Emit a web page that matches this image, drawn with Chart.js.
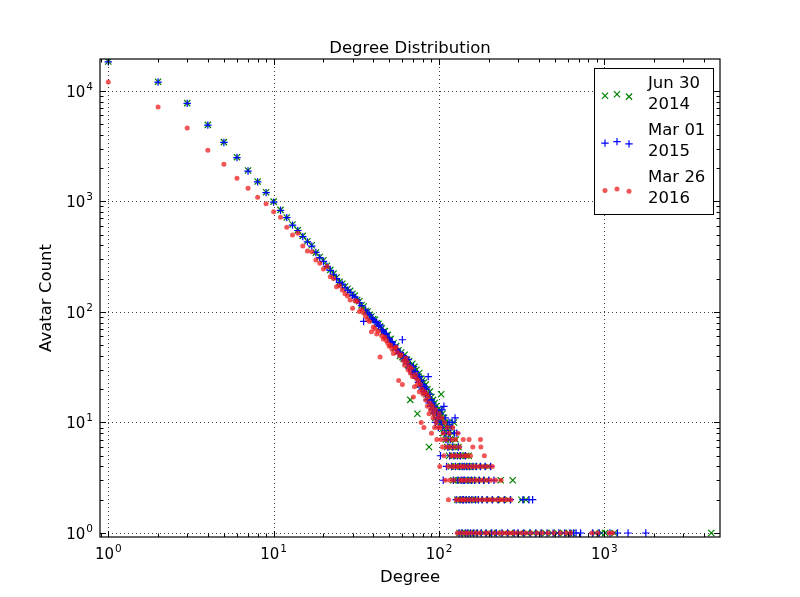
<!DOCTYPE html>
<html>
<head>
<meta charset="utf-8">
<title>Degree Distribution</title>
<script src="https://cdn.jsdelivr.net/npm/chart.js@4.4.1/dist/chart.umd.min.js"></script>
<style>
    html, body { margin: 0; padding: 0; background: #fff; }
    #wrap { width: 800px; height: 597px; position: relative; }
</style>
</head>
<body>
<div id="wrap"><canvas id="degreeChart"></canvas></div>
<script>
// Avatar count for degree 1, 2, 3, ... 140 (one value per degree)
const jun2014Head = [
    18400, 12100, 7740, 4920, 3435, 2510, 1900, 1510, 1210, 995,
    838, 715, 617, 549, 487, 436, 401, 344, 314, 293,
    262, 240, 222, 205, 187, 180, 170, 162, 155, 146,
    141, 128, 125, 115, 112, 102, 101, 94, 91, 86,
    85, 79, 78, 74, 71, 66, 67, 61, 62, 56,
    57, 51, 52, 47, 49, 44, 45, 40, 43, 39,
    38, 41, 35, 37, 33, 36, 16, 31, 34, 29,
    32, 27, 30, 12, 26, 28, 22, 25, 24, 21,
    23, 19, 22, 18, 20, 17, 6, 19, 15, 17,
    14, 16, 13, 15, 11, 14, 12, 13, 10, 12,
    11, 13, 18, 10, 12, 8, 11, 9, 10, 7,
    9, 6, 8, 10, 5, 7, 9, 4, 6, 8,
    5, 3, 10, 6, 4, 7, 3, 5, 2, 4,
    6, 3, 1, 5, 2, 4, 3, 1, 5, 2
];
const mar2015Head = [
    18300, 12000, 7700, 4890, 3410, 2490, 1880, 1500, 1200, 985,
    830, 712, 610, 545, 480, 430, 394, 345, 310, 286,
    258, 238, 219, 200, 185, 178, 165, 157, 150, 141,
    136, 128, 121, 114, 82, 104, 98, 94, 88, 85,
    82, 80, 74, 76, 69, 67, 64, 63, 58, 57,
    54, 53, 49, 50, 46, 45, 42, 43, 40, 56,
    40, 36, 38, 34, 37, 31, 33, 30, 28, 32,
    27, 29, 25, 27, 23, 26, 21, 24, 20, 22,
    19, 21, 18, 20, 16, 26, 15, 18, 14, 16,
    13, 15, 12, 14, 10, 13, 11, 12, 9, 11,
    12, 5, 10, 13, 9, 3, 14, 8, 11, 7,
    4, 9, 6, 8, 10, 5, 7, 9, 4, 10,
    6, 3, 5, 8, 11, 4, 2, 8, 5, 3,
    6, 1, 4, 2, 5, 3, 1, 4, 2, 3
];
const mar2016Head = [
    12000, 7120, 4600, 2900, 2170, 1620, 1315, 1090, 950, 804,
    719, 584, 497, 515, 395, 356, 350, 295, 276, 245,
    257, 208, 201, 169, 172, 158, 146, 139, 128, 108,
    126, 124, 101, 105, 98, 91, 85, 82, 66, 73,
    70, 63, 67, 39, 61, 57, 59, 55, 52, 49,
    50, 46, 42, 47, 48, 43, 24, 40, 41, 22,
    36, 33, 38, 35, 30, 32, 28, 31, 26, 17,
    21, 27, 25, 22, 24, 19, 22, 10, 20, 18,
    9, 19, 16, 18, 14, 17, 12, 15, 13, 8,
    14, 11, 12, 9, 13, 10, 7, 11, 9, 12,
    4, 9, 7, 11, 6, 8, 5, 10, 3, 7,
    6, 9, 4, 2, 8, 3, 6, 5, 7, 4,
    9, 5, 3, 6, 4, 7, 2, 5, 1, 8,
    4, 2, 6, 3, 5, 1, 4, 2, 3, 7
];

// Degrees above 140, grouped by their (small) avatar count
const jun2014Tail = [
    [5, [146, 151]],
    [4, [143, 149, 156, 163, 172, 184, 198]],
    [3, [142, 148, 154, 161, 170, 181, 193, 236, 279]],
    [2, [141, 145, 152, 159, 167, 176, 189, 203, 218, 240, 262, 315, 335]],
    [1, [144, 150, 157, 165, 174, 186, 200, 212, 225, 250, 270, 290, 310, 340, 370,
         400, 440, 480, 520, 565, 610, 640, 880, 960, 1010, 1150, 4430]]
];
const mar2015Tail = [
    [5, [144]],
    [4, [142, 147, 153, 160, 168, 178, 190, 205]],
    [3, [143, 150, 157, 164, 175, 186, 200, 215]],
    [2, [141, 146, 152, 158, 166, 173, 182, 195, 210, 228, 248, 270, 322, 350, 368]],
    [1, [145, 149, 155, 162, 170, 180, 192, 208, 222, 240, 260, 285, 300, 325, 355,
         385, 415, 450, 490, 530, 575, 620, 650, 674, 718, 850, 930, 1080, 1200, 1390, 1780]]
];
const mar2016Tail = [
    [7, [152, 178]],
    [6, [160, 179]],
    [5, [143, 147, 155, 188]],
    [4, [142, 150, 158, 166, 175, 185, 196, 210]],
    [3, [145, 153, 162, 171, 182, 194, 206, 220, 237]],
    [2, [141, 148, 156, 164, 173, 183, 193, 202, 212, 225, 235, 245, 258, 272]],
    [1, [144, 149, 157, 167, 176, 190, 200, 215, 230, 242, 255, 268, 280, 295, 315,
         335, 360, 390, 420, 455, 495, 540, 585, 625, 840, 910, 1070, 1120]]
];

const seriesNames = [['Jun 30', '2014'], ['Mar 01', '2015'], ['Mar 26', '2016']];
const xMajorTicks = [1, 10, 100, 1000];
const yMajorTicks = [1, 10, 100, 1000, 10000];
const xRange = [0.891, 5000];
const yRange = [0.92, 19400];

function toPoints(head, tail) {
    const pts = head.map((c, i) => ({ x: i + 1, y: c }));
    tail.forEach(([count, degrees]) => {
        degrees.forEach(d => pts.push({ x: d, y: count }));
    });
    return pts;
}

function minorTicks(majors, lo, hi) {
    const out = [];
    [majors[0] / 10].concat(majors).forEach(m => {
        for (let k = 2; k <= 9; k++) {
            const v = m * k;
            if (v > lo && v < hi) out.push(v);
        }
    });
    return out;
}

// "10" with a raised exponent, like matplotlib's mathtext tick labels
function drawPowerLabel(ctx, value, x, baseY, anchor) {
    const base = '10';
    const exp = String(Math.round(Math.log10(value)));
    ctx.font = '15px "DejaVu Sans"';
    const wb = ctx.measureText(base).width;
    ctx.font = '10.5px "DejaVu Sans"';
    const we = ctx.measureText(exp).width + 1;
    const left = anchor === 'center' ? x - (wb + we) / 2 : x - (wb + we);
    ctx.textAlign = 'left';
    ctx.textBaseline = 'alphabetic';
    ctx.font = '15px "DejaVu Sans"';
    ctx.fillText(base, left, baseY);
    ctx.font = '10.5px "DejaVu Sans"';
    ctx.fillText(exp, left + wb + 1, baseY - 7);
}

function drawMarker(ctx, ds, x, y) {
    const r = ds.pointRadius;
    ctx.save();
    ctx.lineWidth = ds.borderWidth;
    ctx.strokeStyle = ds.borderColor;
    ctx.fillStyle = ds.backgroundColor;
    ctx.beginPath();
    if (ds.pointStyle === 'crossRot') {
        const o = r * Math.SQRT1_2;
        ctx.moveTo(x - o, y - o); ctx.lineTo(x + o, y + o);
        ctx.moveTo(x - o, y + o); ctx.lineTo(x + o, y - o);
        ctx.stroke();
    } else if (ds.pointStyle === 'cross') {
        ctx.moveTo(x - r, y); ctx.lineTo(x + r, y);
        ctx.moveTo(x, y - r); ctx.lineTo(x, y + r);
        ctx.stroke();
    } else {
        ctx.arc(x, y, r, 0, Math.PI * 2);
        ctx.fill();
    }
    ctx.restore();
}

// matplotlib-like frame: dotted grid, inward ticks on all sides, tick labels, title, legend
const mplFrame = {
    id: 'mplFrame',
    beforeDatasetsDraw(chart) {
        const { ctx, chartArea: a, scales } = chart;
        ctx.save();
        ctx.strokeStyle = 'rgba(0,0,0,0.85)';
        ctx.lineWidth = 0.9;
        ctx.setLineDash([1, 3]);
        xMajorTicks.forEach(v => {
            const px = Math.round(scales.x.getPixelForValue(v)) + 0.5;
            ctx.beginPath(); ctx.moveTo(px, a.top); ctx.lineTo(px, a.bottom); ctx.stroke();
        });
        yMajorTicks.forEach(v => {
            const py = Math.round(scales.y.getPixelForValue(v)) + 0.5;
            ctx.beginPath(); ctx.moveTo(a.left, py); ctx.lineTo(a.right, py); ctx.stroke();
        });
        ctx.restore();
    },
    afterDatasetsDraw(chart) {
        const { ctx, chartArea: a, scales } = chart;
        ctx.save();
        ctx.strokeStyle = '#000';
        ctx.lineWidth = 1;

        const tick = (px, len, horiz) => {
            ctx.beginPath();
            if (horiz) {
                ctx.moveTo(px, a.bottom); ctx.lineTo(px, a.bottom - len);
                ctx.moveTo(px, a.top); ctx.lineTo(px, a.top + len);
            } else {
                ctx.moveTo(a.left, px); ctx.lineTo(a.left + len, px);
                ctx.moveTo(a.right, px); ctx.lineTo(a.right - len, px);
            }
            ctx.stroke();
        };
        xMajorTicks.forEach(v => tick(Math.round(scales.x.getPixelForValue(v)) + 0.5, 6, true));
        minorTicks(xMajorTicks, xRange[0], xRange[1])
            .forEach(v => tick(Math.round(scales.x.getPixelForValue(v)) + 0.5, 3.5, true));
        yMajorTicks.forEach(v => tick(Math.round(scales.y.getPixelForValue(v)) + 0.5, 6, false));
        minorTicks(yMajorTicks, yRange[0], yRange[1])
            .forEach(v => tick(Math.round(scales.y.getPixelForValue(v)) + 0.5, 3.5, false));

        ctx.lineWidth = 1.2;
        ctx.strokeRect(a.left, a.top, a.right - a.left, a.bottom - a.top);

        // tick labels
        ctx.fillStyle = '#000';
        xMajorTicks.forEach(v => drawPowerLabel(ctx, v, scales.x.getPixelForValue(v), a.bottom + 21.5, 'center'));
        yMajorTicks.forEach(v => drawPowerLabel(ctx, v, a.left - 7, scales.y.getPixelForValue(v) + 5.7, 'right'));

        // title
        ctx.font = '16.5px "DejaVu Sans"';
        ctx.textAlign = 'center';
        ctx.textBaseline = 'alphabetic';
        ctx.fillText('Degree Distribution', (a.left + a.right) / 2, a.top - 6);

        // legend
        const lx = a.right - 126, ly = a.top + 9, lw = 119, lh = 146;
        ctx.fillStyle = '#fff';
        ctx.fillRect(lx, ly, lw, lh);
        ctx.lineWidth = 1;
        ctx.strokeStyle = '#000';
        ctx.strokeRect(lx + 0.5, ly + 0.5, lw, lh);
        ctx.fillStyle = '#000';
        ctx.textAlign = 'left';
        ctx.textBaseline = 'middle';
        const offsets = [2, 0.5, 2.8];
        chart.data.datasets.forEach((ds, i) => {
            const cy = ly + 25.8 + i * 47.3;
            [11, 23, 35].forEach((dx, k) => drawMarker(ctx, ds, lx + dx, cy + offsets[k]));
            ctx.fillText(seriesNames[i][0], lx + 54, cy - 10.5);
            ctx.fillText(seriesNames[i][1], lx + 54, cy + 10.5);
        });
        ctx.restore();
    }
};

Chart.defaults.font.family = '"DejaVu Sans", sans-serif';
Chart.defaults.color = '#000';

const ctx = document.getElementById('degreeChart').getContext('2d');
window.degreeChart = new Chart(ctx, {
    type: 'scatter',
    data: {
        datasets: [{
            label: seriesNames[0].join(' '),
            data: toPoints(jun2014Head, jun2014Tail),
            pointStyle: 'crossRot',
            pointRadius: 4.4,
            borderWidth: 1.2,
            borderColor: '#008000',
            backgroundColor: '#008000',
            order: 3
        }, {
            label: seriesNames[1].join(' '),
            data: toPoints(mar2015Head, mar2015Tail),
            pointStyle: 'cross',
            pointRadius: 3.7,
            borderWidth: 1.2,
            borderColor: '#0000ff',
            backgroundColor: '#0000ff',
            order: 2
        }, {
            label: seriesNames[2].join(' '),
            data: toPoints(mar2016Head, mar2016Tail),
            pointStyle: 'circle',
            pointRadius: 2.5,
            borderWidth: 0,
            borderColor: 'rgba(238,30,30,0.75)',
            backgroundColor: 'rgba(238,30,30,0.75)',
            order: 1
        }]
    },
    options: {
        responsive: true,
        maintainAspectRatio: false,
        devicePixelRatio: 1,
        animation: false,
        events: [],
        layout: { padding: { top: 59, right: 80, bottom: 0, left: 0 } },
        plugins: {
            legend: { display: false },
            tooltip: { enabled: false }
        },
        scales: {
            x: {
                type: 'logarithmic',
                min: xRange[0],
                max: xRange[1],
                grid: { display: false, drawTicks: false },
                border: { display: false },
                afterBuildTicks: scale => { scale.ticks = xMajorTicks.map(v => ({ value: v })); },
                afterFit: scale => { scale.height = 60; },
                ticks: { display: false },
                title: {
                    display: true,
                    text: 'Degree',
                    font: { size: 16.5 },
                    padding: { top: 0, bottom: 9 }
                }
            },
            y: {
                type: 'logarithmic',
                min: yRange[0],
                max: yRange[1],
                grid: { display: false, drawTicks: false },
                border: { display: false },
                afterBuildTicks: scale => { scale.ticks = yMajorTicks.map(v => ({ value: v })); },
                afterFit: scale => { scale.width = 100; },
                ticks: { display: false },
                title: {
                    display: true,
                    text: 'Avatar Count',
                    font: { size: 16.5 },
                    padding: { top: 37, bottom: 0 }
                }
            }
        }
    },
    plugins: [mplFrame]
});
</script>
</body>
</html>
